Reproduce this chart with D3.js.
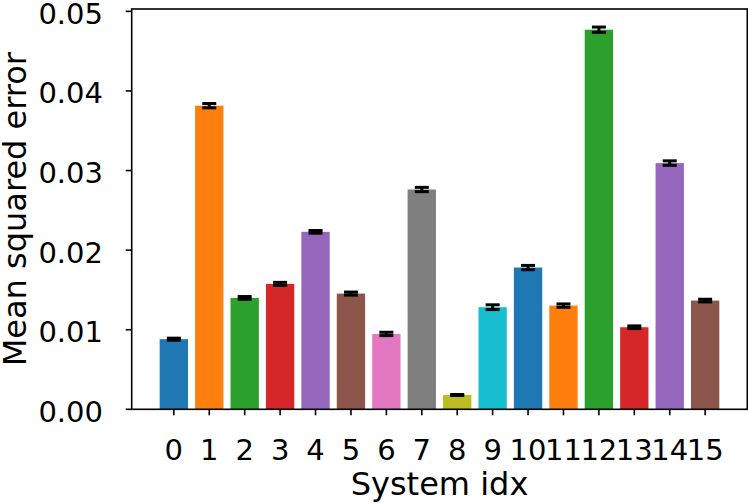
<!DOCTYPE html>
<html>
<head>
  <meta charset="utf-8">
  <title>Mean squared error per system</title>
  <script src="https://d3js.org/d3.v7.min.js"></script>
  <style>
    body { margin: 0; background: #fff; }
    svg text { font-family: "DejaVu Sans", sans-serif; fill: #000; }
    .tick-label { font-size: 29px; }
    .axis-title { font-size: 32px; }
  </style>
</head>
<body>
  <svg width="748" height="504"></svg>
  <script>
    // system indices on the x axis
    const systems = ["0", "1", "2", "3", "4", "5", "6", "7", "8", "9", "10", "11", "12", "13", "14", "15"];
    // mean squared error per system
    const mse = [0.00881, 0.03815, 0.01400, 0.01576, 0.02230, 0.01454, 0.00947, 0.02762,
                 0.00180, 0.01283, 0.01781, 0.01303, 0.04770, 0.01031, 0.03094, 0.01366];
    // half-width of the error bars
    const err = [0.00013, 0.00027, 0.00017, 0.00019, 0.00017, 0.00019, 0.00021, 0.00027,
                 0.00006, 0.00030, 0.00027, 0.00021, 0.00033, 0.00017, 0.00028, 0.00017];
    const yTicks = [0.00, 0.01, 0.02, 0.03, 0.04, 0.05];
    const colors = ["#1f77b4", "#ff7f0e", "#2ca02c", "#d62728", "#9467bd",
                    "#8c564b", "#e377c2", "#7f7f7f", "#bcbd22", "#17becf"];

    const svg = d3.select("svg");
    const pl = 131.7, pr = 747.3, pt = 9, pb = 409.3;

    const x = d3.scaleLinear().domain([-1.19, 16.19]).range([pl, pr]);
    const y = d3.scaleLinear().domain([0, 0.0503]).range([pb, pt]);
    const barW = x(0.8) - x(0);
    const color = d3.scaleOrdinal().domain(systems).range(colors);

    // bars
    svg.append("g").selectAll("rect")
      .data(systems)
      .enter().append("rect")
      .attr("x", (d, i) => x(i) - barW / 2)
      .attr("width", barW)
      .attr("y", (d, i) => y(mse[i]))
      .attr("height", (d, i) => y(0) - y(mse[i]))
      .attr("fill", d => color(d));

    // error bars
    const eb = svg.append("g").attr("stroke", "#000").attr("stroke-width", 3);
    systems.forEach((d, i) => {
      const cx = x(i), y0 = y(mse[i] - err[i]), y1 = y(mse[i] + err[i]);
      eb.append("line").attr("x1", cx).attr("x2", cx).attr("y1", y0).attr("y2", y1);
      eb.append("line").attr("x1", cx - 7).attr("x2", cx + 7).attr("y1", y0).attr("y2", y0);
      eb.append("line").attr("x1", cx - 7).attr("x2", cx + 7).attr("y1", y1).attr("y2", y1);
    });

    // spines
    svg.append("rect")
      .attr("x", pl).attr("y", pt)
      .attr("width", pr - pl).attr("height", pb - pt)
      .attr("fill", "none").attr("stroke", "#000").attr("stroke-width", 1.6);

    // y ticks
    const yg = svg.append("g");
    yTicks.forEach(t => {
      yg.append("line")
        .attr("x1", pl - 6).attr("x2", pl)
        .attr("y1", y(t)).attr("y2", y(t))
        .attr("stroke", "#000").attr("stroke-width", 1.6);
      yg.append("text")
        .attr("class", "tick-label")
        .attr("x", 103).attr("y", y(t) + 12.5)
        .attr("text-anchor", "end")
        .text(d3.format(".2f")(t));
    });

    // x ticks
    const xg = svg.append("g");
    systems.forEach((d, i) => {
      xg.append("line")
        .attr("x1", x(i)).attr("x2", x(i))
        .attr("y1", pb).attr("y2", pb + 6)
        .attr("stroke", "#000").attr("stroke-width", 1.6);
      xg.append("text")
        .attr("class", "tick-label")
        .attr("x", x(i)).attr("y", 460)
        .attr("text-anchor", "middle")
        .text(d);
    });

    // axis titles
    svg.append("text")
      .attr("class", "axis-title")
      .attr("x", (pl + pr) / 2).attr("y", 495)
      .attr("text-anchor", "middle")
      .text("System idx");

    svg.append("text")
      .attr("class", "axis-title")
      .attr("transform", `translate(26,${(pt + pb) / 2}) rotate(-90)`)
      .attr("text-anchor", "middle")
      .text("Mean squared error");
  </script>
</body>
</html>
